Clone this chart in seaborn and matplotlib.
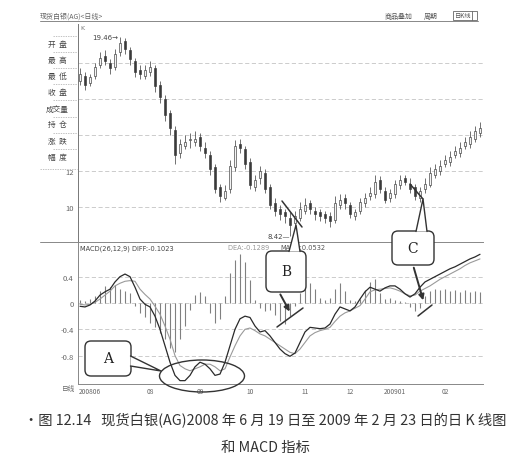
import numpy as np
import matplotlib
matplotlib.use("Agg")
import matplotlib.pyplot as plt
import seaborn as sns
from matplotlib.patches import FancyBboxPatch, Ellipse, Polygon

sns.set_style("white")
plt.rcParams['font.family'] = ['Noto Sans CJK SC', 'DejaVu Sans']
plt.rcParams['axes.unicode_minus'] = False

# ---------------- data (daily bars) ----------------
opens = [17.0, 17.3, 16.9, 17.3, 17.9, 18.4, 18.0, 17.8, 18.6, 19.2,
         18.7, 18.1, 17.6, 17.3, 17.5, 17.7, 16.8, 16.0, 15.2, 14.3,
         13.0, 13.4, 13.7, 13.6, 13.9, 13.3, 12.9, 12.2, 11.1, 10.5,
         11.0, 12.2, 13.5, 13.2, 12.5, 11.1, 11.6, 11.9, 11.1, 10.2,
         9.9, 9.7, 9.4, 9.1, 9.4, 9.8, 10.2, 9.8, 9.7, 9.6,
         9.5, 9.3, 10.1, 10.5, 10.1, 9.5, 9.8, 10.2, 10.6, 10.7,
         11.5, 10.9, 10.5, 10.7, 11.2, 11.6, 11.3, 11.1, 10.5, 11.0,
         11.2, 11.8, 12.0, 12.4, 12.5, 12.9, 13.0, 13.4, 13.5, 13.8, 14.1]
closes = [17.4, 16.8, 17.2, 17.8, 18.3, 18.1, 17.7, 18.5, 19.1, 18.8,
          18.2, 17.5, 17.4, 17.6, 17.8, 16.7, 16.1, 15.1, 14.4, 12.9,
          13.5, 13.6, 13.7, 13.8, 13.4, 13.0, 12.1, 11.0, 10.6, 10.9,
          12.3, 13.4, 13.3, 12.4, 11.2, 11.5, 12.0, 11.0, 10.1, 9.8,
          9.6, 9.5, 9.0, 9.5, 9.9, 10.1, 9.9, 9.6, 9.5, 9.4,
          9.2, 10.2, 10.4, 10.2, 9.6, 9.7, 10.3, 10.5, 10.8, 11.4,
          11.0, 10.4, 10.8, 11.3, 11.5, 11.4, 11.0, 10.6, 10.9, 11.3,
          11.9, 12.1, 12.3, 12.6, 12.8, 13.1, 13.3, 13.6, 13.9, 14.2, 14.4]
highs = [17.7, 17.5, 17.4, 18.0, 18.6, 18.7, 18.2, 18.8, 19.46, 19.4,
         18.9, 18.3, 17.9, 17.9, 18.1, 17.9, 17.0, 16.2, 15.4, 14.5,
         13.8, 14.0, 14.1, 14.2, 14.1, 13.6, 13.1, 12.4, 11.3, 11.2,
         12.6, 13.7, 13.8, 13.4, 12.7, 11.8, 12.3, 12.1, 11.3, 10.5,
         10.1, 9.9, 9.7, 9.8, 10.3, 10.5, 10.4, 10.0, 9.9, 9.8,
         9.7, 10.6, 10.7, 10.7, 10.3, 9.9, 10.5, 10.8, 11.1, 11.8,
         11.7, 11.1, 11.0, 11.5, 11.8, 11.8, 11.6, 11.3, 11.1, 11.6,
         12.2, 12.4, 12.6, 12.9, 13.1, 13.4, 13.6, 13.9, 14.2, 14.5, 14.7]
lows = [16.8, 16.5, 16.7, 17.1, 17.7, 17.9, 17.4, 17.6, 18.4, 18.5,
        17.9, 17.2, 17.1, 17.1, 17.3, 16.4, 15.8, 14.8, 14.0, 12.4,
        12.7, 13.2, 13.3, 13.4, 13.1, 12.7, 11.8, 10.8, 10.3, 10.4,
        10.8, 12.0, 13.0, 12.1, 11.0, 10.9, 11.3, 10.8, 9.9, 9.5,
        9.3, 9.1, 8.42, 8.8, 9.2, 9.6, 9.6, 9.3, 9.2, 9.1,
        8.9, 9.1, 9.9, 9.9, 9.4, 9.3, 9.6, 10.0, 10.4, 10.5,
        10.8, 10.2, 10.3, 10.5, 11.0, 11.2, 10.8, 10.4, 10.3, 10.8,
        11.1, 11.6, 11.8, 12.2, 12.3, 12.7, 12.8, 13.2, 13.3, 13.6, 13.9]

diff = [-0.05, -0.06, -0.03, 0.03, 0.12, 0.17, 0.21, 0.32, 0.40, 0.44,
        0.40, 0.24, 0.06, -0.02, -0.06, -0.20, -0.40, -0.65, -0.90, -1.10,
        -1.18, -1.18, -1.10, -0.97, -0.90, -0.93, -1.00, -1.10, -1.08, -0.90,
        -0.65, -0.40, -0.24, -0.20, -0.22, -0.35, -0.44, -0.42, -0.50, -0.60,
        -0.70, -0.77, -0.81, -0.76, -0.60, -0.44, -0.37, -0.38, -0.39, -0.38,
        -0.32, -0.17, -0.06, -0.09, -0.12, -0.06, 0.06, 0.17, 0.24, 0.21,
        0.18, 0.23, 0.26, 0.26, 0.21, 0.14, 0.09, 0.14, 0.24, 0.32,
        0.36, 0.40, 0.44, 0.48, 0.52, 0.55, 0.59, 0.63, 0.67, 0.70, 0.74]
dea = [-0.02, -0.03, -0.02, 0.01, 0.06, 0.12, 0.18, 0.26, 0.30, 0.33,
       0.34, 0.33, 0.21, 0.13, 0.06, -0.05, -0.17, -0.35, -0.55, -0.80,
       -0.95, -1.00, -1.03, -1.00, -0.97, -0.93, -0.93, -0.97, -1.03, -1.00,
       -0.82, -0.65, -0.50, -0.40, -0.38, -0.42, -0.47, -0.50, -0.55, -0.60,
       -0.65, -0.70, -0.75, -0.77, -0.70, -0.60, -0.50, -0.45, -0.42, -0.40,
       -0.37, -0.28, -0.20, -0.15, -0.12, -0.08, -0.04, 0.06, 0.17, 0.20,
       0.21, 0.22, 0.23, 0.21, 0.18, 0.14, 0.11, 0.12, 0.18, 0.22,
       0.26, 0.31, 0.36, 0.40, 0.44, 0.48, 0.52, 0.57, 0.61, 0.64, 0.67]
macd_hist = [0.05, 0.03, 0.06, 0.10, 0.18, 0.26, 0.24, 0.28, 0.22, 0.18,
             0.15, -0.05, -0.15, -0.22, -0.30, -0.36, -0.45, -0.55, -0.68, -0.75,
             -0.55, -0.35, -0.10, 0.12, 0.16, 0.10, -0.15, -0.30, -0.25, 0.10,
             0.45, 0.65, 0.74, 0.62, 0.35, 0.05, -0.08, -0.12, -0.10, -0.18,
             -0.28, -0.32, -0.20, -0.05, 0.15, 0.28, 0.30, 0.22, 0.08, 0.05,
             0.08, 0.22, 0.30, 0.18, 0.05, 0.03, 0.06, 0.20, 0.32, 0.36,
             0.15, 0.06, 0.08, 0.05, 0.03, 0.02, -0.06, -0.12, -0.08, 0.10,
             0.18, 0.22, 0.20, 0.22, 0.18, 0.20, 0.17, 0.19, 0.17, 0.18, 0.16]

month_labels = ["200806", "08", "09", "10", "11", "12", "200901", "02"]
month_pos = [2, 14, 24, 34, 45, 54, 63, 73]
price_ticks = [10, 12]
price_grid = [10, 12, 14, 16, 18]
macd_ticks = [-0.8, -0.4, 0, 0.4]
macd_ticklabels = ["-0.8", "-0.4", "0", "0.4"]
side_labels = ["开  盘", "最  高", "最  低", "收  盘", "成交量", "持  仓", "涨  跌", "幅  度"]

# ---------------- figure ----------------
W, H = 529, 464
fig = plt.figure(figsize=(W / 100, H / 100), dpi=100)
fig.patch.set_facecolor("white")

def box(x0, y0, x1, y1):
    return [x0 / W, 1 - y1 / H, (x1 - x0) / W, (y1 - y0) / H]

ax1 = fig.add_axes(box(78, 25, 483, 243))
ax2 = fig.add_axes(box(78, 243, 483, 385))

idx = np.arange(len(closes))
o = np.array(opens); c = np.array(closes)
hi = np.array(highs); lo = np.array(lows)

gridkw = dict(color="#c4c4c4", lw=0.6, ls=(0, (5, 3)), zorder=0)
for v in price_grid:
    ax1.axhline(v, **gridkw)

ax1.vlines(idx, lo, hi, color="#3a3a3a", lw=0.5, zorder=2)
up = c >= o
body_h = np.maximum(np.abs(c - o), 0.06)
ax1.bar(idx, body_h, bottom=np.minimum(o, c), width=0.5,
        color=np.where(up, "#f4f4f4", "#3a3a3a"), edgecolor="#3a3a3a", lw=0.45, zorder=3)

ax1.set_xlim(-0.4, 80.6)
ax1.set_ylim(8.06, 20.17)
ax1.set_yticks(price_ticks)
ax1.set_yticklabels([str(t) for t in price_ticks])
ax1.set_xticks([])
ax1.tick_params(axis="y", length=0, labelsize=5.5, labelcolor="#666", pad=3)
for s in ["top", "right", "bottom"]:
    ax1.spines[s].set_visible(False)
ax1.spines["left"].set_color("#777")
ax1.spines["left"].set_linewidth(0.7)
ax1.set_facecolor("none")

ax1.text(2.4, 19.46, "19.46→", fontsize=5, color="#444", va="center", ha="left",
         family="DejaVu Sans")
ax1.text(37.6, 8.42, "8.42—", fontsize=5, color="#444", va="center", ha="left",
         family="DejaVu Sans")
ax1.text(0.0, 20.0, "K", fontsize=4.5, color="#777", va="center", ha="left",
         family="DejaVu Sans")

# MACD panel
for v in [0.4, 0.0, -0.4, -0.8]:
    ax2.axhline(v, **gridkw)
ax2.vlines(idx, 0, macd_hist, color="#808080", lw=0.8, zorder=2)
sns.lineplot(x=idx, y=dea, ax=ax2, color="#9a9a9a", lw=0.8, zorder=3)
sns.lineplot(x=idx, y=diff, ax=ax2, color="#2a2a2a", lw=0.9, zorder=4)
ax2.set_xlim(-0.4, 80.6)
ax2.set_ylim(-1.231, 0.927)
ax2.set_yticks(macd_ticks)
ax2.set_yticklabels(macd_ticklabels)
ax2.set_xticks(month_pos)
ax2.set_xticklabels(month_labels)
ax2.tick_params(axis="y", length=0, labelsize=5.5, labelcolor="#666", pad=3)
ax2.tick_params(axis="x", length=0, labelsize=4.8, labelcolor="#666", pad=2)
ax2.spines["right"].set_visible(False)
for s in ["left", "top", "bottom"]:
    ax2.spines[s].set_color("#888")
    ax2.spines[s].set_linewidth(0.7)
ax2.set_facecolor("none")
ax2.text(0.0, 0.89, "MACD(26,12,9) DIFF:-0.1023 ",
         fontsize=4.8, color="#444", va="top", ha="left", family="DejaVu Sans")
ax2.text(29.5, 0.89, "DEA:-0.1289 ", fontsize=4.8, color="#999", va="top", ha="left",
         family="DejaVu Sans")
ax2.text(40.0, 0.89, "MACD:0.0532", fontsize=4.8, color="#555", va="top", ha="left",
         family="DejaVu Sans")

# ---------------- overlay for interface chrome and callouts ----------------
ov = fig.add_axes([0, 0, 1, 1], zorder=10)
ov.set_xlim(0, W); ov.set_ylim(H, 0); ov.axis("off"); ov.patch.set_alpha(0)

ov.plot([40, 478], [22, 22], color="#888", lw=0.7)
ov.text(40, 17, "现货白银(AG)<日线>", fontsize=5, color="#666", va="center", ha="left")
ov.text(385, 17, "商品叠加", fontsize=5, color="#555", va="center", ha="left")
ov.text(424, 17, "周期", fontsize=5, color="#555", va="center", ha="left")
ov.add_patch(plt.Rectangle((453, 12), 24, 9, fill=False, ec="#666", lw=0.6))
ov.text(455, 16.5, "日K线", fontsize=4.5, color="#555", va="center", ha="left")
ov.plot([472, 472], [12, 21], color="#666", lw=0.6)
ov.plot([40, 78], [243, 243], color="#888", lw=0.7)

for k, lab in enumerate(side_labels):
    yy = 45 + 16.1 * k
    ov.text(57, yy, lab, fontsize=5.5, color="#444", va="center", ha="center")
    ov.plot([53, 77], [yy - 8, yy - 8], color="#aaa", lw=0.5, ls=(0, (2, 1.5)))
ov.plot([40, 77], [170, 170], color="#aaa", lw=0.5, ls=(0, (2, 1.5)))
ov.text(62, 389, "日线", fontsize=4.8, color="#666", va="center", ha="left")

lc = "#333"
def callout(x0, y0, x1, y1, label, wedge):
    ov.add_patch(FancyBboxPatch((x0, y0), x1 - x0, y1 - y0,
                                boxstyle="round,pad=0,rounding_size=6",
                                fc="white", ec=lc, lw=1.0, zorder=11))
    ov.add_patch(Polygon(wedge, closed=False, fc="white", ec="none", zorder=12))
    ov.plot([wedge[0][0], wedge[1][0], wedge[2][0]],
            [wedge[0][1], wedge[1][1], wedge[2][1]], color=lc, lw=1.0, zorder=13)
    ov.text((x0 + x1) / 2, (y0 + y1) / 2, label, fontsize=10, color="#222",
            ha="center", va="center", family="DejaVu Serif", zorder=14)

# B
ov.plot([282, 302], [202, 228], color=lc, lw=1.1, zorder=11)
callout(266, 252, 306, 293, "B", [(289, 252.5), (296, 226), (300, 252.5)])
ov.annotate("", xy=(291, 315), xytext=(279, 293),
            arrowprops=dict(arrowstyle="-|>", color=lc, lw=1.4, mutation_scale=8), zorder=12)
ov.plot([277, 303], [328, 309], color=lc, lw=1.1, zorder=11)
# C
ov.plot([410, 423], [185, 200], color=lc, lw=1.1, zorder=11)
callout(392, 232, 434, 266, "C", [(416, 232.5), (423, 200), (427, 232.5)])
ov.annotate("", xy=(424, 304), xytext=(413, 266),
            arrowprops=dict(arrowstyle="-|>", color=lc, lw=1.4, mutation_scale=8), zorder=12)
ov.plot([418, 432], [317, 306], color=lc, lw=1.1, zorder=11)
# A
callout(85, 342, 131, 377, "A", [(130.5, 357), (161, 372), (130.5, 367)])
ov.add_patch(Ellipse((202, 377), 85, 32, fill=False, ec=lc, lw=1.0, zorder=11))

# caption
ov.text(265, 421, "•图 12.14   现货白银(AG)2008 年 6 月 19 日至 2009 年 2 月 23 日的日 K 线图",
        fontsize=10.3, color="#333", ha="center", va="center", zorder=2)
ov.text(265, 448, "和 MACD 指标", fontsize=10.3, color="#333", ha="center", va="center", zorder=2)

fig.savefig("out.png", dpi=100)
